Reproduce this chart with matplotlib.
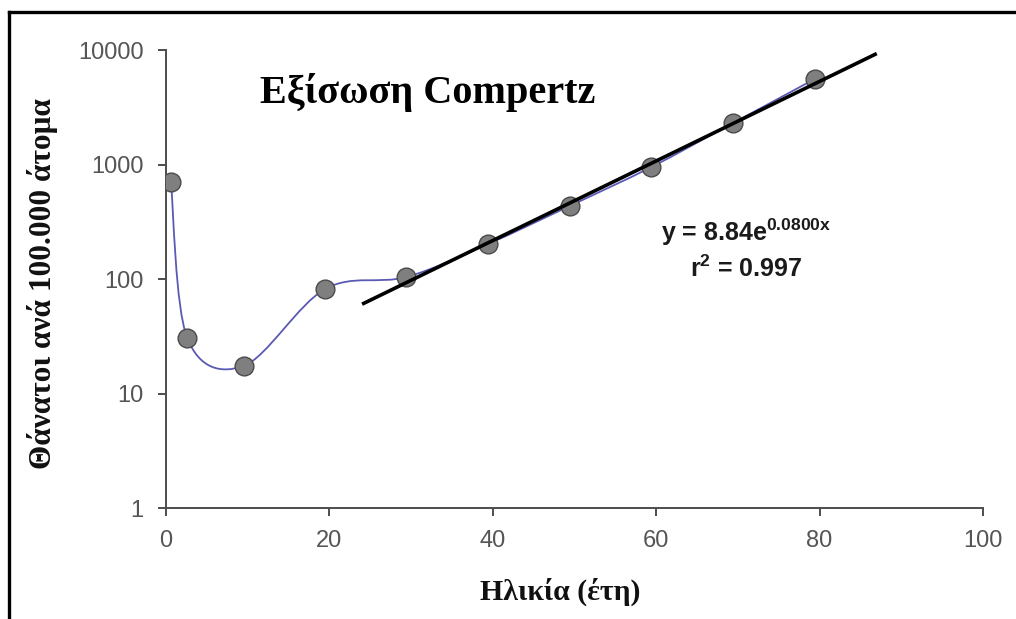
import numpy as np
import matplotlib.pyplot as plt
from matplotlib.path import Path
from matplotlib.patches import PathPatch
from matplotlib.lines import Line2D
from matplotlib.ticker import FixedLocator, NullLocator

# --- DATA ---
age = [0.6, 2.6, 9.5, 19.5, 29.4, 39.4, 49.4, 59.4, 69.4, 79.4]
deaths = [700, 30.5, 17.4, 82, 104, 202, 434, 950, 2300, 5580]

# Exponential fit shown on the chart (y = a * e^(b x)) and its drawn range
fit_a = 8.84
fit_b = 0.0800
fit_x = [24.0, 87.0]

x_ticks = [0, 20, 40, 60, 80, 100]
y_ticks = [1, 10, 100, 1000, 10000]

plt.rcParams['mathtext.fontset'] = 'custom'
plt.rcParams['mathtext.rm'] = 'Liberation Sans:bold'
plt.rcParams['mathtext.it'] = 'Liberation Sans:bold'
plt.rcParams['mathtext.bf'] = 'Liberation Sans:bold'

fig = plt.figure(figsize=(10.16, 6.19), dpi=100)
ax = fig.add_axes([0.1634, 0.1793, 0.8041, 0.7399])
ax.set_yscale('log')
ax.set_xlim(0, 100)
ax.set_ylim(1, 10000)

# Smoothed line (Catmull-Rom bezier in x / log10(y) space, like Excel smoothing)
px = np.array(age, dtype=float)
py = np.log10(np.array(deaths, dtype=float))
verts = [(px[0], py[0])]
codes = [Path.MOVETO]
n = len(px)
for i in range(n - 1):
    p0 = max(i - 1, 0)
    p3 = min(i + 2, n - 1)
    c1 = (px[i] + (px[i + 1] - px[p0]) / 6, py[i] + (py[i + 1] - py[p0]) / 6)
    c2 = (px[i + 1] - (px[p3] - px[i]) / 6, py[i + 1] - (py[p3] - py[i]) / 6)
    verts += [c1, c2, (px[i + 1], py[i + 1])]
    codes += [Path.CURVE4] * 3
verts = [(vx, 10 ** vy) for vx, vy in verts]
ax.add_patch(PathPatch(Path(verts, codes), facecolor='none', edgecolor='#5a5ab4',
                       lw=1.3, zorder=2))

# Data points
ax.plot(age, deaths, linestyle='none', marker='o', markersize=13.5,
        markerfacecolor='#7f7f7f', markeredgecolor='#4a4a4a', markeredgewidth=1.0, zorder=3)

# Trend line
fx = np.array(fit_x)
ax.plot(fx, fit_a * np.exp(fit_b * fx), color='black', lw=2.6, zorder=4, solid_capstyle='butt')

# Axes styling
for side in ['top', 'right']:
    ax.spines[side].set_visible(False)
for side in ['left', 'bottom']:
    ax.spines[side].set_color('#4d4d4d')
    ax.spines[side].set_linewidth(1.4)
ax.xaxis.set_major_locator(FixedLocator(x_ticks))
ax.yaxis.set_major_locator(FixedLocator(y_ticks))
ax.yaxis.set_minor_locator(NullLocator())
ax.set_yticklabels([str(v) for v in y_ticks])
ax.tick_params(direction='out', length=6, width=1.4, color='#4d4d4d',
               labelcolor='#555555', labelsize=17)
ax.tick_params(axis='x', pad=10)
ax.tick_params(axis='y', pad=10)
for lab in ax.get_xticklabels() + ax.get_yticklabels():
    lab.set_fontfamily('Liberation Sans')

ax.set_xlabel('Ηλικία (έτη)', fontfamily='Liberation Serif', fontweight='bold',
              fontsize=21.5, color='#111111', va='center')
ax.xaxis.set_label_coords(0.482, -0.183)
ax.set_ylabel('Θάνατοι ανά 100.000 άτομα', fontfamily='Liberation Serif', fontweight='bold',
              fontsize=22.5, color='#111111', va='center')
ax.yaxis.set_label_coords(-0.151, 0.49)

# Title inside the plot
ax.text(0.32, 0.908, 'Εξίσωση Compertz', transform=ax.transAxes, ha='center', va='center',
        fontfamily='Liberation Serif', fontweight='bold', fontsize=29, color='black')

# Equation annotation
eq_kw = dict(transform=ax.transAxes, ha='center', va='center', fontsize=18,
             fontfamily='Liberation Sans', fontweight='bold', color='#1a1a1a')
ax.text(0.71, 0.603, 'y = 8.84e$^{0.0800x}$', **eq_kw)
ax.text(0.71, 0.522, 'r$^{2}$ = 0.997', **eq_kw)

# Figure border (left and top edge of the frame)
fig.add_artist(Line2D([8.5 / 1016, 8.5 / 1016], [0, 1 - 11.5 / 619], color='black',
                      lw=2.4, transform=fig.transFigure))
fig.add_artist(Line2D([8.5 / 1016, 1], [1 - 11.5 / 619, 1 - 11.5 / 619], color='black',
                      lw=2.4, transform=fig.transFigure, solid_capstyle='projecting'))

fig.savefig('out.png', dpi=100, facecolor='white')
